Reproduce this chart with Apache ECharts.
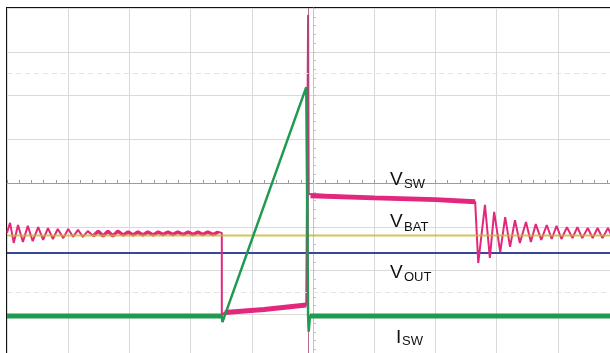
<!DOCTYPE html>
<html>
<head>
<meta charset="utf-8">
<script src="https://cdn.jsdelivr.net/npm/echarts@6/dist/echarts.min.js"></script>
<style>
  html, body { margin: 0; padding: 0; background: #fff; }
  #scope { width: 610px; height: 353px; }
</style>
</head>
<body>
<div id="scope"></div>
<script>
// Horizontal: 10 units per division, 0 = trigger point (screen centre).
// Vertical: 10 units per division, 0 = screen centre.

// V_SW (switch node voltage)
const vswTime = [
  -50.0, -49.5, -48.9, -48.2, -47.4, -46.6, -45.8, -44.9, -44.1, -43.3,
  -42.5, -41.7, -40.8, -40.0, -39.2, -38.4, -37.6, -36.8, -35.9, -35.1,
  -34.3, -33.5, -32.7, -31.9, -31.0, -30.2, -29.4, -28.6, -27.8, -27.0,
  -26.1, -25.3, -24.5, -23.7, -22.9, -22.1, -21.2, -20.4, -19.6, -18.8,
  -18.0, -17.2, -16.3, -15.5, -14.9, -14.9, -14.4, -8.0, -1.1, -0.8,
  -0.8, -0.7, -0.4, 10.0, 20.0, 26.5, 27.0, 28.1, 28.9, 29.6,
  30.6, 31.4, 32.2, 33.0, 33.8, 34.8, 35.6, 36.4, 37.3, 38.2,
  39.0, 39.8, 40.6, 41.5, 42.4, 43.2, 44.0, 44.9, 45.7, 46.5,
  47.3, 48.2, 49.0, 49.8
];
const vswLevel = [
  -11.4, -9.1, -13.7, -9.6, -13.5, -9.8, -13.3, -10.1, -13.0, -10.3,
  -12.8, -10.5, -12.6, -10.5, -12.3, -10.7, -12.3, -11.0, -12.1, -11.0,
  -12.1, -11.0, -12.1, -11.0, -11.9, -11.2, -11.9, -11.2, -11.9, -11.2,
  -11.9, -11.2, -11.8, -11.2, -11.8, -11.2, -11.8, -11.2, -11.8, -11.2,
  -11.8, -11.2, -11.8, -11.2, -11.4, -30.2, -29.6, -28.9, -27.9, -27.9,
  38.4, -2.5, -2.9, -3.4, -3.8, -4.3, -18.3, -5.0, -17.1, -6.6,
  -15.8, -7.8, -14.6, -8.5, -13.7, -8.9, -13.5, -9.4, -13.0, -9.6,
  -12.8, -9.8, -12.8, -10.1, -12.6, -10.1, -12.6, -10.3, -12.6, -10.3,
  -12.6, -10.3, -12.6, -10.3
];

// V_BAT and V_OUT (flat rails)
const vbatTime = [-50, 50];
const vbatLevel = [-12.0, -12.0];
const voutTime = [-50, 50];
const voutLevel = [-16.0, -16.0];

// I_SW (switch current)
const iswTime = [-50, -14.9, -14.8, -1.1, -0.8, -0.7, -0.5, 50];
const iswLevel = [-30.4, -30.4, -31.8, 21.9, -30.4, -34.0, -30.4, -30.4];

// trigger position and the two cursor rows
const triggerTime = -0.8;
const cursorLevels = [25, -25];

// stretches where the trace is a noisy, thicker band
const vswBandSpans = [[-36, -15.5], [-14.5, -1.1], [-0.4, 26.5]];
const iswBandSpans = [[-50, -14.9], [-0.5, 50]];

const PINK = '#e2277c';
const GREEN = '#1f9a50';
const BLUE = '#37489a';
const YELLOW = '#c2b82a';

function pairs(ts, vs) {
  return ts.map((t, i) => [t, vs[i]]);
}
function slice(ts, vs, span) {
  return pairs(ts, vs).filter(p => p[0] >= span[0] && p[0] <= span[1]);
}
function trace(name, data, color, width, extra) {
  return Object.assign({
    name, type: 'line', data, showSymbol: false, symbol: 'none',
    lineStyle: { color, width }, itemStyle: { color },
    animation: false, silent: true
  }, extra || {});
}

const series = [];
series.push(trace('V_OUT', pairs(voutTime, voutLevel), BLUE, 2, {
  z: 2,
  markLine: {
    silent: true, symbol: 'none', animation: false,
    label: { show: false },
    lineStyle: { color: '#e4e4e4', width: 1, type: [5, 4] },
    data: cursorLevels.map(v => ({ yAxis: v }))
  }
}));
series.push(trace('V_SW', pairs(vswTime, vswLevel), PINK, 2, {
  z: 3,
  markLine: {
    silent: true, symbol: 'none', animation: false,
    label: { show: false },
    lineStyle: { color: '#a24c78', width: 1, type: 'solid', opacity: 0.8 },
    data: [{ xAxis: triggerTime }]
  }
}));
vswBandSpans.forEach((s, i) => {
  series.push(trace('V_SW band ' + i, slice(vswTime, vswLevel, s), PINK, i === 0 ? 3.5 : 5, { z: 3 }));
});
series.push(trace('V_BAT', pairs(vbatTime, vbatLevel), YELLOW, 2, {
  z: 4, lineStyle: { color: YELLOW, width: 2, opacity: 0.8 }
}));
series.push(trace('I_SW', pairs(iswTime, iswLevel), GREEN, 2.5, { z: 5 }));
iswBandSpans.forEach((s, i) => {
  series.push(trace('I_SW band ' + i, slice(iswTime, iswLevel, s), GREEN, 5, { z: 5 }));
});

const gridLine = { show: true, lineStyle: { color: '#dadada', width: 1 } };

const chart = echarts.init(document.getElementById('scope'), null, { renderer: 'canvas' });
chart.setOption({
  backgroundColor: '#ffffff',
  animation: false,
  grid: {
    left: 7, top: 8, width: 612, height: 350,
    outerBoundsMode: 'none', containLabel: false,
    show: true, borderColor: '#111', borderWidth: 2, backgroundColor: '#fff'
  },
  xAxis: {
    type: 'value', min: -50, max: 50, interval: 10,
    axisLabel: { show: false },
    splitLine: gridLine,
    axisLine: { show: true, onZero: true, lineStyle: { color: '#9c9c9c', width: 1 } },
    axisTick: { show: true, inside: true, length: 3, lineStyle: { color: '#9c9c9c' } },
    minorTick: { show: true, splitNumber: 5, length: 3, lineStyle: { color: '#9c9c9c' } }
  },
  yAxis: {
    type: 'value', min: -40, max: 40, interval: 10,
    axisLabel: { show: false },
    splitLine: gridLine,
    axisLine: { show: true, onZero: true, lineStyle: { color: '#c4c4c4', width: 1 } },
    axisTick: { show: true, inside: true, length: 3, lineStyle: { color: '#c4c4c4' } },
    minorTick: { show: true, splitNumber: 5, length: 3, lineStyle: { color: '#c4c4c4' } }
  },
  series,
  graphic: [
    ['V', 'SW', 390, 189, 404, 191],
    ['V', 'BAT', 390, 231, 404, 234],
    ['V', 'OUT', 390, 282, 404, 284],
    ['I', 'SW', 396, 347, 402, 348]
  ].flatMap(([main, sub, x1, y1, x2, y2]) => [
    { type: 'text', x: x1, y: y1, z: 100, silent: true,
      style: { text: main, font: '19px "Liberation Sans", Arial, sans-serif', fill: '#111', verticalAlign: 'bottom' } },
    { type: 'text', x: x2, y: y2, z: 100, silent: true,
      style: { text: sub, font: '13px "Liberation Sans", Arial, sans-serif', fill: '#111', verticalAlign: 'bottom' } }
  ])
});
</script>
</body>
</html>
